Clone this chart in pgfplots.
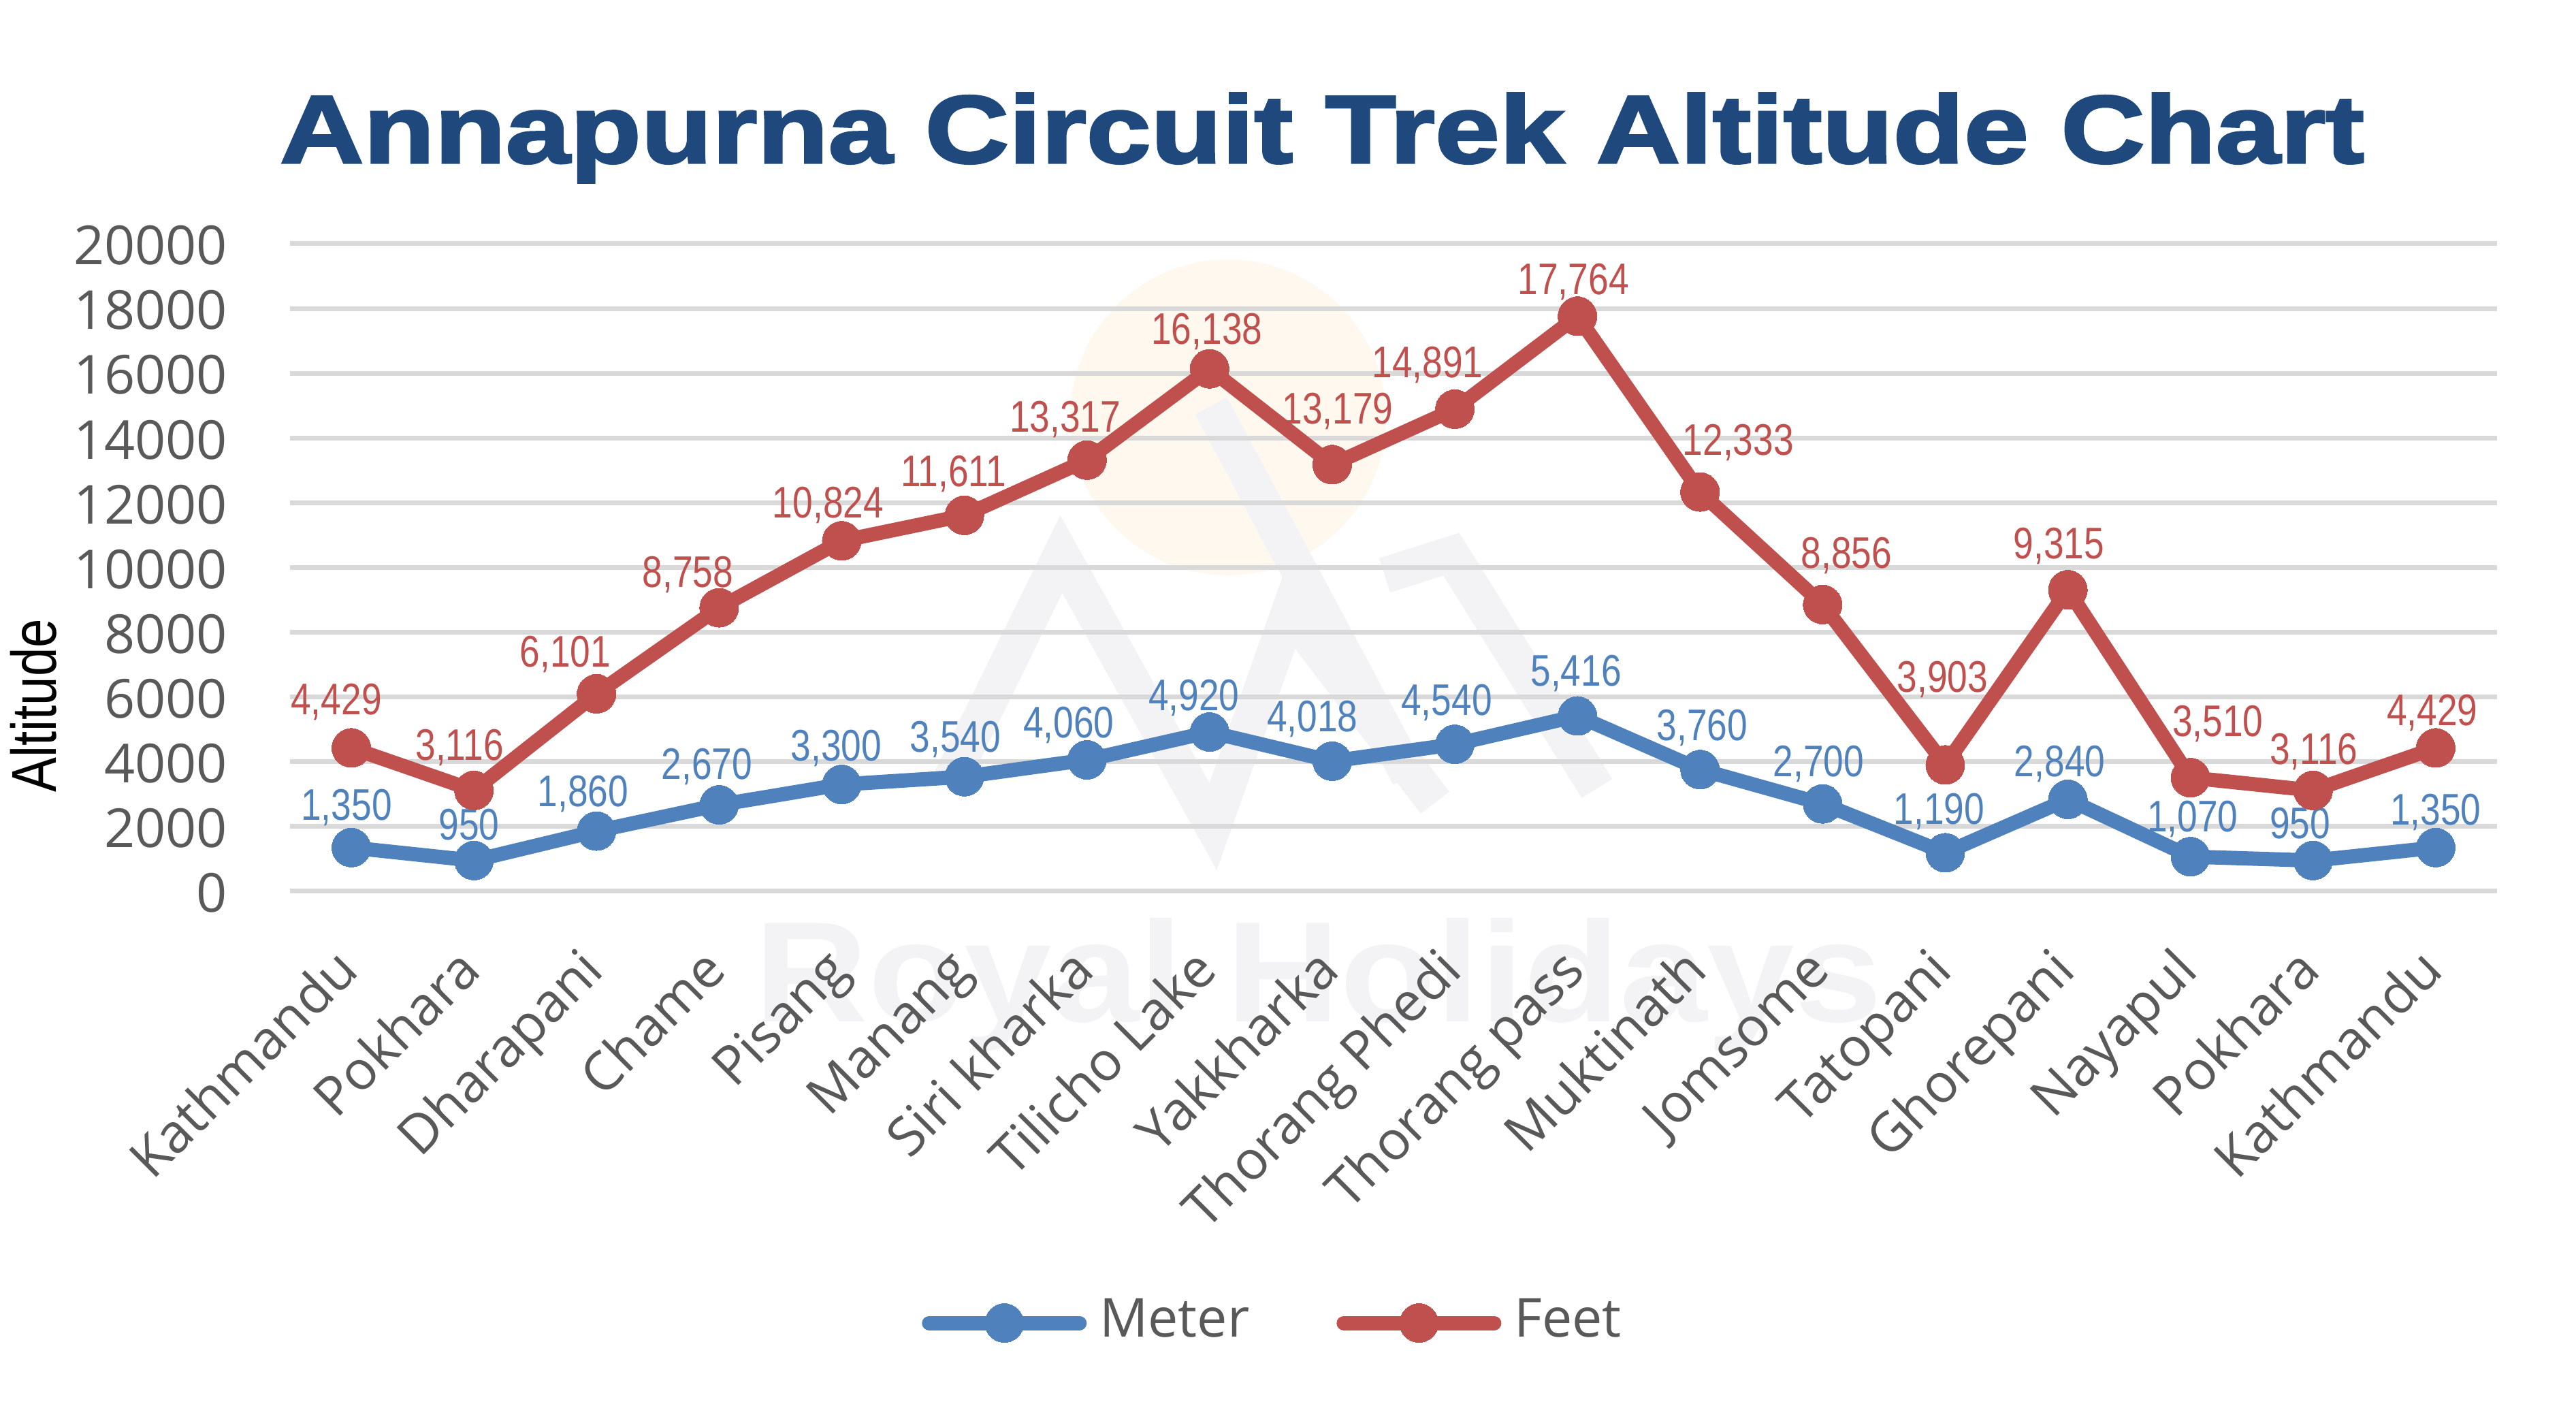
\documentclass[border=0pt]{standalone}
\usepackage{fontspec}
\setmainfont{Open Sans}
\newfontfamily\narrowfont{Liberation Sans}[FakeStretch=0.82]
\newfontfamily\titlefont{Liberation Sans}[FakeStretch=1.21, BoldFeatures={FakeBold=2.5}]
\newfontfamily\wmfont{Liberation Sans}[FakeStretch=1.1]
\usepackage{pgfplots}
\usepackage{pgfplotstable}
\pgfplotsset{compat=1.18}
\definecolor{mblue}{HTML}{4F81BD}
\definecolor{mred}{HTML}{C0504D}
\definecolor{tblue}{HTML}{1F497D}
\definecolor{tgray}{HTML}{595959}
\definecolor{ggray}{HTML}{D9D9D9}
\definecolor{wmgray}{HTML}{F3F3F5}
\definecolor{wmsun}{HTML}{FFF8EE}

\pgfplotstableread{
x y lab dx dy
0 1350 1,350 -0.7 4.0
1 950 950 -0.7 3.0
2 1860 1,860 -2.0 3.6
3 2670 2,670 -1.8 3.8
4 3300 3,300 -0.8 3.5
5 3540 3,540 -1.3 3.6
6 4060 4,060 -2.7 3.2
7 4920 4,920 -2.3 3.2
8 4018 4,018 -2.9 4.3
9 4540 4,540 -1.2 4.3
10 5416 5,416 -0.2 4.4
11 3760 3,760 0.3 4.3
12 2700 2,700 -0.6 4.0
13 1190 1,190 -0.9 4.2
14 2840 2,840 -1.2 3.3
15 1070 1,070 0.3 3.7
16 950 950 -1.9 3.2
17 1350 1,350 0.0 3.3
}\meter

\pgfplotstableread{
x y lab dx dy
0 4429 4,429 -2.2 4.9
1 3116 3,116 -2.1 4.4
2 6101 6,101 -4.6 3.9
3 8758 8,758 -4.6 3.0
4 10824 10,824 -2.0 3.4
5 11611 11,611 -1.6 4.2
6 13317 13,317 -3.2 4.1
7 16138 16,138 -0.4 3.6
8 13179 13,179 0.8 6.0
9 14891 14,891 -4.0 4.6
10 17764 17,764 -0.6 3.2
11 12333 12,333 5.6 5.4
12 8856 8,856 3.5 5.3
13 3903 3,903 -0.4 10.7
14 9315 9,315 -1.3 4.6
15 3510 3,510 4.0 6.1
16 3116 3,116 0.1 3.8
17 4429 4,429 -0.5 3.3
}\feet

\begin{document}
\begin{tikzpicture}
\useasboundingbox (0,0) rectangle (378.4pt,208.4pt);
% faint watermark
\fill[wmsun] (180.4pt,147.1pt) circle (23.2pt);
\begin{scope}[draw=wmgray, line width=5.3pt, line join=miter, miter limit=10]
\draw (139.2pt,93.0pt) -- (155.9pt,127.0pt) -- (178.2pt,87.0pt) -- (189.4pt,118.6pt) -- (210.8pt,90.5pt);
\draw (177.9pt,148.8pt) -- (207.0pt,94.4pt);
\draw (203.4pt,123.9pt) -- (213.2pt,127.0pt) -- (234.6pt,92.6pt);
\end{scope}
\node[anchor=base, inner sep=0, text=wmgray, font=\wmfont\bfseries\fontsize{21}{24}\selectfont] at (193.7pt,58.3pt) {Royal Holidays};

\begin{axis}[
  at={(42.6pt,77.5pt)}, anchor=south west,
  width=324.2pt, height=95.1pt, scale only axis,
  xmin=-0.5, xmax=17.5, ymin=0, ymax=20000,
  clip=false,
  axis line style={draw=none},
  major tick length=0pt,
  ytick={0,2000,...,20000},
  scaled y ticks=false,
  ymajorgrids,
  grid style={color=ggray, line width=0.7pt},
  xtick={0,...,17},
  xticklabels={Kathmandu,Pokhara,Dharapani,Chame,Pisang,Manang,Siri kharka,Tilicho Lake,Yakkharka,Thorang Phedi,Thorang pass,Muktinath,Jomsome,Tatopani,Ghorepani,Nayapul,Pokhara,Kathmandu},
  /pgf/number format/assume math mode=true,
  yticklabel style={/pgf/number format/1000 sep={}, /pgf/number format/fixed, anchor=east, inner sep=0pt, xshift=-9pt, yshift=-0.25pt, text=tgray, font=\fontsize{7.9}{9}\selectfont},
  xticklabel style={xshift=1.5pt, yshift=-11.9pt, rotate=45, anchor=base east, inner sep=0pt, text=tgray, font=\fontsize{7.9}{9}\selectfont},
  legend style={at={(rel axis cs:0.4448,-0.6667)}, anchor=center, draw=none, fill=none,
    legend columns=-1, font=\fontsize{7.9}{9}\selectfont, text=tgray,
    nodes={inner sep=0pt},
    /tikz/every odd column/.append style={column sep=1.9pt},
    /tikz/every even column/.append style={column sep=12.8pt}},
  legend cell align=left,
  legend image code/.code={%
    \draw[#1, line cap=round] (0pt,0pt) -- (22.1pt,0pt);
    \draw[#1] plot coordinates {(11.05pt,0pt)};
  },
]
\addplot[color=mblue, line width=2.1pt, line join=round, mark=*, mark size=2.85pt,
  mark options={solid, fill=mblue, draw=mblue, line width=0pt},
  point meta=explicit symbolic,
  visualization depends on={\thisrow{dx} \as \ldx},
  visualization depends on={\thisrow{dy} \as \ldy},
  nodes near coords,
  nodes near coords style={anchor=base, xshift=\ldx pt, yshift=\ldy pt, inner sep=0pt, text=mblue, font=\narrowfont\fontsize{6.5}{7}\selectfont}]
  table[x=x, y=y, meta=lab] {\meter};
\addlegendentry{Meter}
\addplot[color=mred, line width=2.1pt, line join=round, mark=*, mark size=2.85pt,
  mark options={solid, fill=mred, draw=mred, line width=0pt},
  point meta=explicit symbolic,
  visualization depends on={\thisrow{dx} \as \ldx},
  visualization depends on={\thisrow{dy} \as \ldy},
  nodes near coords,
  nodes near coords style={anchor=base, xshift=\ldx pt, yshift=\ldy pt, inner sep=0pt, text=mred, font=\narrowfont\fontsize{6.5}{7}\selectfont}]
  table[x=x, y=y, meta=lab] {\feet};
\addlegendentry{Feet}
\end{axis}

\node[anchor=base, inner sep=0, text=tblue, font=\titlefont\bfseries\fontsize{14.1}{16}\selectfont] at (194.2pt,184.5pt) {Annapurna Circuit Trek Altitude Chart};
\node[rotate=90, inner sep=0, anchor=center, font=\narrowfont\fontsize{9.3}{10}\selectfont] at (4.95pt,104.8pt) {Altitude};
\end{tikzpicture}
\end{document}
